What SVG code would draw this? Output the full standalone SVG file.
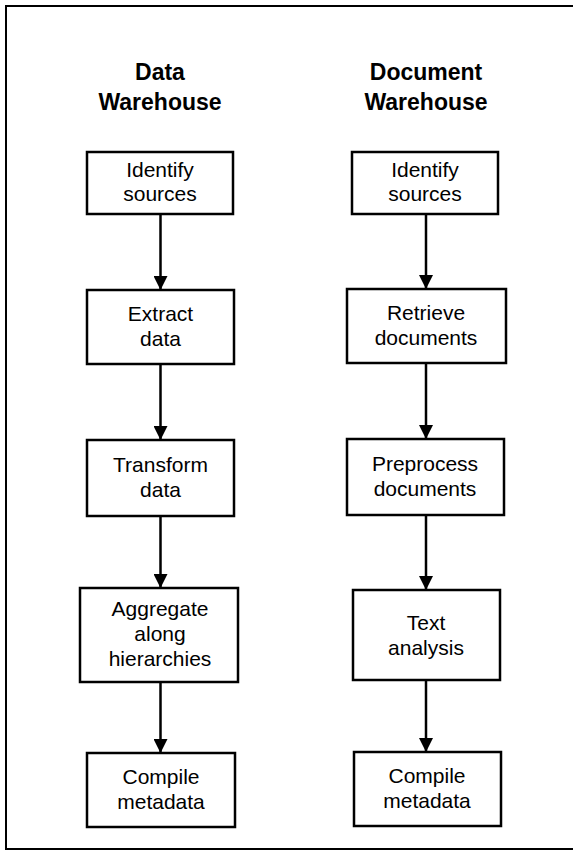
<svg xmlns="http://www.w3.org/2000/svg" width="573" height="852" viewBox="0 0 573 852">
<style>
.box{fill:#fff;stroke:#000;stroke-width:2.5}
.t{font-family:"Liberation Sans",Arial,Helvetica,sans-serif;font-size:21px;fill:#000;text-anchor:middle}
.h{font-family:"Liberation Sans",Arial,Helvetica,sans-serif;font-size:23px;font-weight:bold;fill:#000;text-anchor:middle}
.c{stroke:#000;stroke-width:2.5;fill:none}
.frame{stroke:#000;stroke-width:2;fill:none}
</style>
<defs>
<marker id="ah" markerWidth="14" markerHeight="14" refX="14" refY="7" orient="auto" markerUnits="userSpaceOnUse">
<path d="M0,0 L14,7 L0,14 Z" fill="#000"/>
</marker>
</defs>
<rect x="0" y="0" width="573" height="852" fill="#fff"/>
<path class="frame" d="M573,6 H6 V849 H573"/>
<g id="title-left"><text class="h" x="160" y="80">Data</text><text class="h" x="160" y="110">Warehouse</text></g>
<g id="title-right"><text class="h" x="426" y="80">Document</text><text class="h" x="426" y="110">Warehouse</text></g>
<g id="connectors">
<line class="c" x1="160.5" y1="214" x2="160.5" y2="290" marker-end="url(#ah)"/>
<line class="c" x1="160.5" y1="364" x2="160.5" y2="440" marker-end="url(#ah)"/>
<line class="c" x1="160.5" y1="516" x2="160.5" y2="588" marker-end="url(#ah)"/>
<line class="c" x1="160.5" y1="682" x2="160.5" y2="753" marker-end="url(#ah)"/>
<line class="c" x1="426" y1="214" x2="426" y2="289" marker-end="url(#ah)"/>
<line class="c" x1="426" y1="363" x2="426" y2="439" marker-end="url(#ah)"/>
<line class="c" x1="426" y1="515" x2="426" y2="590" marker-end="url(#ah)"/>
<line class="c" x1="426" y1="680" x2="426" y2="752" marker-end="url(#ah)"/>
</g>
<g id="l1"><rect class="box" x="87" y="152" width="146" height="62"/><text class="t" x="160" y="177">Identify</text><text class="t" x="160" y="201">sources</text></g>
<g id="l2"><rect class="box" x="87" y="290" width="147" height="74"/><text class="t" x="160.5" y="321">Extract</text><text class="t" x="160.5" y="346">data</text></g>
<g id="l3"><rect class="box" x="87" y="440" width="147" height="76"/><text class="t" x="160.5" y="472">Transform</text><text class="t" x="160.5" y="497">data</text></g>
<g id="l4"><rect class="box" x="80" y="588" width="158" height="94"/><text class="t" x="160" y="616">Aggregate</text><text class="t" x="160" y="641">along</text><text class="t" x="160" y="666">hierarchies</text></g>
<g id="l5"><rect class="box" x="87" y="753" width="148" height="74"/><text class="t" x="161" y="784">Compile</text><text class="t" x="161" y="809">metadata</text></g>
<g id="r1"><rect class="box" x="352" y="152" width="146" height="62"/><text class="t" x="425" y="177">Identify</text><text class="t" x="425" y="201">sources</text></g>
<g id="r2"><rect class="box" x="347" y="289" width="159" height="74"/><text class="t" x="426" y="320">Retrieve</text><text class="t" x="426" y="345">documents</text></g>
<g id="r3"><rect class="box" x="347" y="439" width="157" height="76"/><text class="t" x="425" y="471">Preprocess</text><text class="t" x="425" y="496">documents</text></g>
<g id="r4"><rect class="box" x="353" y="590" width="147" height="90"/><text class="t" x="426" y="630">Text</text><text class="t" x="426" y="655">analysis</text></g>
<g id="r5"><rect class="box" x="354" y="752" width="147" height="74"/><text class="t" x="427" y="783">Compile</text><text class="t" x="427" y="808">metadata</text></g>
</svg>
